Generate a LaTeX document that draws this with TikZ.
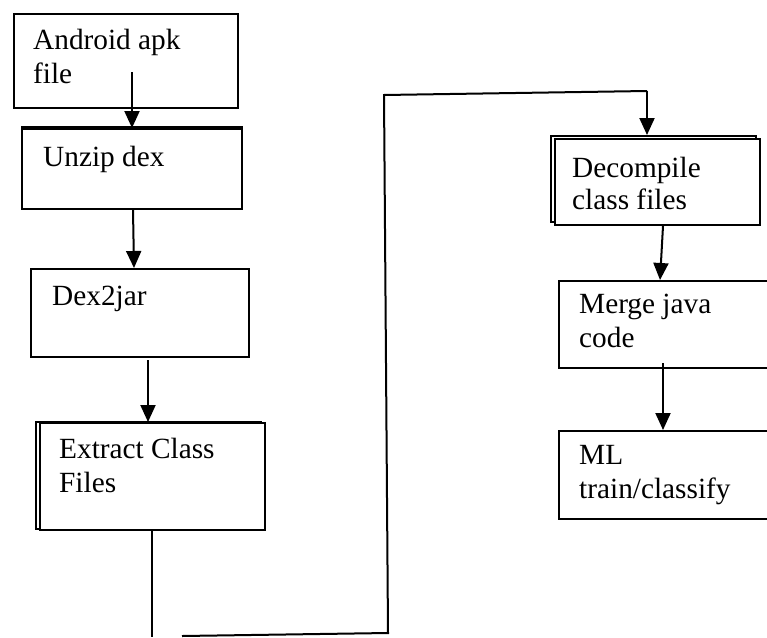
\documentclass[tikz,border=0pt]{standalone}
\usepackage{fontspec}
\setmainfont{Liberation Serif}
\usetikzlibrary{arrows.meta,shadows}
\begin{document}
\begin{tikzpicture}[x=1pt,y=-1pt,
  box/.style={draw, line width=2pt, fill=white, inner sep=0pt, anchor=north west},
  boxshadow/.style={general shadow={shadow xshift=-4pt, shadow yshift=#1, draw=black, fill=white, line width=1.8pt}},
  lbl/.style={anchor=base west, inner sep=0pt, font=\fontsize{29.3pt}{34pt}\selectfont},
  edge/.style={line width=2pt},
  arr/.style={edge, -{Triangle[width=15pt,length=17pt]}}]
\useasboundingbox (0,0) rectangle (767,637);
\clip (0,0) rectangle (767,637);

% left column of steps
\node[box, minimum width=224pt, minimum height=94pt] (apk) at (13,13) {};
\node[lbl] (apkt) at (33,49) {\begin{tabular}[t]{@{}l@{}}Android apk\\file\end{tabular}};

\node[box, minimum width=220pt, minimum height=80pt] (unzip) at (21,128) {};
\draw[line width=3.2pt] (unzip.north west) -- (unzip.north east);
\node[lbl] (unzipt) at (43,166) {Unzip dex};

\node[box, line width=1.8pt, minimum width=218pt, minimum height=88pt] (dexjar) at (30,268) {};
\node[lbl] (dexjart) at (52,305) {Dex2jar};

\node[box, line width=1.8pt, boxshadow=1pt, minimum width=225pt, minimum height=107pt] (extract) at (39,422) {};
\node[lbl] (extractt) at (59,458) {\begin{tabular}[t]{@{}l@{}}Extract Class\\Files\end{tabular}};

% right column of steps
\node[box, boxshadow=3pt, minimum width=205pt, minimum height=86pt] (decomp) at (554,138) {};
\node[lbl] (decompt) at (572,177) {\begin{tabular}[t]{@{}l@{}}Decompile\\[-2pt]class files\end{tabular}};

\node[box, minimum width=230pt, minimum height=87pt] (merge) at (558,280) {};
\node[lbl] (merget) at (579,313) {\begin{tabular}[t]{@{}l@{}}Merge java\\code\end{tabular}};

\node[box, minimum width=230pt, minimum height=88pt] (ml) at (558,430) {};
\node[lbl] (mlt) at (579,464) {\begin{tabular}[t]{@{}l@{}}ML\\train/classify\end{tabular}};

% arrows between steps
\coordinate (a1) at (132,72);
\draw[arr] (a1) -- (a1 |- unzip.north);
\draw[arr] (unzip.south -| 133,0) -- (dexjar.north -| 134,0);
\coordinate (a3) at (148,360);
\draw[arr] (a3) -- (a3 |- extract.north);

% long connector from the left column to the right column
\coordinate (c1) at (152,637);
\coordinate (c2) at (182,636);
\coordinate (c3) at (388,633);
\coordinate (c4) at (384,95);
\coordinate (c5) at (647,91);
\draw[edge] (extract.south -| c1) -- (c1);
\draw[edge] (c2) -- (c3) -- (c4) -- (c5);
\draw[arr] (c5) -- ([yshift=3pt]c5 |- decomp.north);

\draw[arr] (decomp.south -| 663,0) -- (merge.north -| 660,0);
\coordinate (a5) at (663,363);
\draw[arr] (a5) -- (a5 |- ml.north);
\end{tikzpicture}
\end{document}
